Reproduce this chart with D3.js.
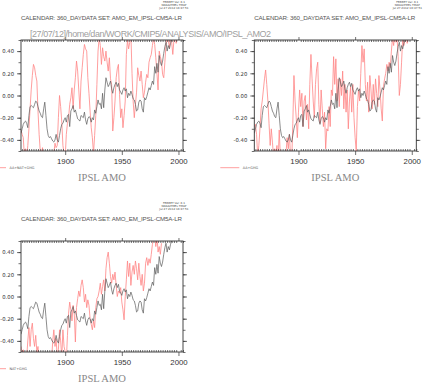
<!DOCTYPE html>
<html><head><meta charset="utf-8">
<script src="https://cdn.jsdelivr.net/npm/d3@7"></script>
<style>body{margin:0;background:#fff}svg{display:block}</style>
</head><body><svg id="c" width="432" height="382"></svg>
<script>
// ---------- data ----------
const startYear = 1861;
const obsAMO = [
-0.34,-0.30,-0.26,-0.24,-0.23,-0.25,-0.29,-0.18,-0.10,-0.09,
-0.10,-0.11,-0.08,-0.05,-0.06,-0.10,-0.14,-0.16,-0.19,-0.20,
-0.12,-0.06,-0.18,-0.30,-0.36,-0.38,-0.37,-0.39,-0.41,-0.42,
-0.40,-0.35,-0.40,-0.42,-0.36,-0.30,-0.26,-0.25,-0.22,-0.20,
-0.24,-0.18,-0.17,-0.28,-0.14,-0.12,-0.09,-0.15,-0.13,-0.17,
-0.21,-0.22,-0.23,-0.18,-0.19,-0.20,-0.15,-0.22,-0.26,-0.21,
-0.19,-0.20,-0.24,-0.20,-0.22,-0.13,-0.16,-0.10,-0.04,-0.08,
-0.07,-0.12,0.02,-0.11,0.05,0.16,0.12,0.08,0.10,0.13,
0.06,0.02,0.07,0.10,0.12,0.08,0.11,0.05,0.03,0.01,
0.05,0.07,0.04,0.06,-0.02,0.02,0.00,0.04,0.01,-0.03,
-0.04,-0.08,-0.14,-0.13,-0.06,-0.04,-0.05,-0.12,-0.15,-0.02,
-0.04,-0.01,0.03,0.07,0.05,0.09,0.13,0.10,0.26,0.20,
0.29,0.21,0.36,0.30,0.27,0.31,0.38,0.44,0.48,0.40,
0.45,0.42,0.47,0.50,0.51,0.55,0.52,0.58,0.56,0.60,0.58
];
const aaNatGhg = [
-0.31,-0.35,-0.38,-0.55,-0.48,-0.58,-0.45,-0.30,-0.12,0.05,
0.18,0.28,0.25,0.18,0.13,-0.14,-0.35,-0.50,-0.55,-0.47,
-0.60,-0.56,-0.68,-0.52,-0.62,-0.58,-0.66,-0.55,-0.60,-0.52,
-0.43,-0.47,-0.45,-0.20,0.00,-0.10,-0.24,-0.45,-0.52,-0.56,
-0.35,-0.25,-0.20,-0.08,-0.02,0.07,-0.12,0.05,0.16,0.31,
0.22,0.05,-0.12,0.13,0.25,0.37,0.46,0.42,0.40,0.16,
0.02,-0.14,-0.29,-0.38,-0.52,-0.36,-0.18,0.10,0.40,0.52,
0.45,0.28,0.43,0.35,0.31,0.40,0.30,0.22,0.34,0.15,
0.10,-0.32,-0.20,-0.05,0.16,0.24,0.28,0.01,-0.20,-0.12,
-0.29,-0.18,-0.05,0.37,0.50,0.42,0.48,0.55,0.20,-0.05,
-0.20,-0.08,0.03,0.25,0.18,0.13,0.22,0.10,-0.02,0.03,
0.12,0.19,0.16,0.30,0.34,0.37,0.45,0.52,0.46,0.34,
0.20,0.05,0.40,0.35,0.31,0.19,0.16,0.30,0.46,0.52,
0.50,0.43,0.52,0.48,0.37,0.50,0.56,0.47,0.55,0.60
];
const aaGhg = [
-0.28,-0.26,-0.35,-0.55,-0.45,-0.30,-0.12,-0.05,0.05,0.15,
0.23,0.10,-0.05,-0.25,-0.45,-0.30,-0.42,-0.55,-0.48,-0.52,
-0.45,-0.60,-0.31,-0.55,-0.50,-0.62,-0.56,-0.70,-0.52,-0.38,
-0.48,-0.35,-0.55,-0.60,-0.25,0.18,-0.05,-0.20,-0.38,-0.15,
0.05,-0.10,0.02,-0.28,-0.05,0.00,-0.22,-0.08,-0.30,0.10,
0.37,0.15,-0.05,-0.20,0.10,0.24,0.30,-0.08,-0.25,0.05,
-0.12,-0.28,-0.15,-0.48,-0.30,-0.32,-0.10,-0.28,0.05,0.00,
0.35,0.10,0.33,-0.05,0.15,-0.10,0.15,0.00,0.22,-0.12,
0.10,-0.15,0.05,-0.30,-0.05,0.08,-0.15,0.10,-0.20,-0.38,
-0.50,-0.10,0.05,-0.05,0.20,0.45,0.30,0.42,0.10,-0.05,
0.12,-0.15,0.18,0.05,-0.12,0.10,-0.08,0.15,0.02,-0.10,
0.18,0.05,-0.12,-0.23,0.08,0.15,0.20,0.28,0.22,0.30,
0.25,0.40,0.52,0.45,0.55,0.48,0.52,0.35,0.00,0.10,
0.30,0.52,0.45,0.50,0.55,0.47,0.55,0.50,0.60
];
const natGhg = [
-0.45,-0.55,-0.48,-0.60,-0.50,-0.55,-0.40,-0.28,-0.45,-0.30,
-0.24,-0.38,-0.45,-0.35,-0.50,-0.45,-0.58,-0.52,-0.65,-0.55,
-0.62,-0.58,-0.70,-0.60,-0.55,-0.65,-0.52,-0.58,-0.40,-0.30,
-0.45,-0.38,-0.55,-0.48,-0.30,-0.40,-0.55,-0.30,-0.45,-0.50,
-0.58,-0.35,-0.15,-0.05,-0.12,-0.22,-0.08,-0.15,-0.41,-0.10,
-0.02,0.05,0.00,0.10,0.15,0.08,-0.05,0.02,-0.10,-0.03,
-0.08,-0.20,-0.25,-0.30,-0.22,-0.28,-0.10,-0.02,0.00,0.05,
0.12,0.02,0.09,0.15,0.05,0.25,0.35,0.40,0.30,0.18,
0.12,0.20,0.15,0.22,0.10,0.00,0.05,0.03,0.08,-0.05,
-0.12,-0.21,0.00,0.15,0.32,0.18,0.30,0.10,0.22,0.28,
0.20,0.32,0.25,0.15,0.30,0.18,0.10,0.20,0.05,0.12,
0.30,0.35,0.28,0.34,0.30,0.38,0.47,0.52,0.60,0.45,
0.55,0.40,0.45,0.38,0.48
];
const xDomain = [1861, 2004];
const yDomain = [-0.5, 0.5];
const yTickValues = [-0.4, -0.2, 0, 0.2, 0.4];
const yTickLabels = ["-0.40", "-0.20", "0.00", "0.20", "0.40"];
const yMinorValues = [-0.5, -0.4, -0.3, -0.2, -0.1, 0, 0.1, 0.2, 0.3, 0.4, 0.5];
const xTickValues = [1900, 1950, 2000];
const xTickLabels = ["1900", "1950", "2000"];
const legendLabels = ["AA+NAT+GHG", "AA+GHG", "NAT+GHG"];
const headerText = "CALENDAR: 360_DAYDATA SET: AMO_EM_IPSL-CM5A-LR";
const pathText = "[27/07/12]/home/dan/WORK/CMIP5/ANALYSIS/AMO/IPSL_AMO2";
const stampLines = ["FERRET Ver. 6.1", "NOAA/PMEL TMAP", "Jul 27 2012 16:47:51"];
const titleText = "IPSL AMO";

// ---------- drawing ----------
const svg = d3.select("#c");
const W = 162, H = 111;
const panels = [
  {left: 21, top: 40, red: aaNatGhg, label: legendLabels[0], path: true},
  {left: 254.3, top: 40, red: aaGhg, label: legendLabels[1], path: false},
  {left: 21, top: 241, red: natGhg, label: legendLabels[2], path: false}
];
const xMinor = [];
for (let yv = 1862; yv <= 2004; yv += 2) if (yv % 50 !== 0) xMinor.push(yv);
const sans = "'DejaVu Sans', sans-serif";
const thin = "'Liberation Sans', sans-serif";

panels.forEach((p, i) => {
  const g = svg.append("g");
  const x = d3.scaleLinear().domain(xDomain).range([p.left, p.left + W]);
  const y = d3.scaleLinear().domain(yDomain).range([p.top + H, p.top]);
  const cid = "clip" + i;
  svg.append("clipPath").attr("id", cid).append("rect")
    .attr("x", p.left).attr("y", p.top).attr("width", W).attr("height", H);

  const line = d3.line().x((d, k) => x(startYear + k)).y(d => y(d));
  g.append("path").datum(p.red).attr("clip-path", `url(#${cid})`)
    .attr("d", line).attr("fill", "none").attr("stroke", "#ff8585").attr("stroke-width", 0.8);
  g.append("path").datum(obsAMO).attr("clip-path", `url(#${cid})`)
    .attr("d", line).attr("fill", "none").attr("stroke", "#5a5a5a").attr("stroke-width", 0.7);

  // frame
  g.append("rect").attr("x", p.left).attr("y", p.top).attr("width", W).attr("height", H)
    .attr("fill", "none").attr("stroke", "#333").attr("stroke-width", 0.9);

  const clean = sel => { sel.select(".domain").remove(); sel.selectAll("line").attr("stroke", "#333").attr("stroke-width", 0.7); };

  const la = g.append("g").attr("transform", `translate(${p.left},0)`)
    .call(d3.axisLeft(y).tickValues(yTickValues).tickFormat((d, k) => yTickLabels[k]).tickSize(4).tickPadding(3));
  clean(la);
  la.selectAll("text").attr("font-family", sans).attr("font-size", 5.3).attr("fill", "#333");
  const lm = g.append("g").attr("transform", `translate(${p.left},0)`)
    .call(d3.axisLeft(y).tickValues(yMinorValues).tickFormat("").tickSize(2.5));
  clean(lm);
  const ra = g.append("g").attr("transform", `translate(${p.left + W},0)`)
    .call(d3.axisRight(y).tickValues(yTickValues).tickFormat("").tickSize(4));
  clean(ra);
  const rm = g.append("g").attr("transform", `translate(${p.left + W},0)`)
    .call(d3.axisRight(y).tickValues(yMinorValues).tickFormat("").tickSize(2.5));
  clean(rm);
  const ba = g.append("g").attr("transform", `translate(0,${p.top + H})`)
    .call(d3.axisBottom(x).tickValues(xTickValues).tickFormat((d, k) => xTickLabels[k]).tickSize(4));
  clean(ba);
  ba.selectAll("text").attr("y", 13).attr("dy", 0).attr("font-family", thin).attr("font-size", 7.8).attr("fill", "#333");
  const bm = g.append("g").attr("transform", `translate(0,${p.top + H})`)
    .call(d3.axisBottom(x).tickValues(xMinor).tickFormat("").tickSize(-2));
  clean(bm);
  const ta = g.append("g").attr("transform", `translate(0,${p.top})`)
    .call(d3.axisTop(x).tickValues(xTickValues).tickFormat("").tickSize(3));
  clean(ta);
  const tm = g.append("g").attr("transform", `translate(0,${p.top})`)
    .call(d3.axisTop(x).tickValues(xMinor).tickFormat("").tickSize(-2));
  clean(tm);

  // header
  g.append("text").attr("x", p.left).attr("y", p.top - 20).text(headerText)
    .attr("font-family", thin).attr("font-size", 6.2).attr("fill", "#555")
    .attr("textLength", 161).attr("lengthAdjust", "spacing");
  // stamp
  stampLines.forEach((s, k) => {
    g.append("text").attr("x", p.left + 153).attr("y", p.top - 37.5 + k * 3).text(s)
      .attr("text-anchor", "middle").attr("font-family", sans).attr("font-size", 2.8).attr("fill", "#444");
  });
  if (p.path) {
    g.append("text").attr("x", 30).attr("y", 36.5).text(pathText)
      .attr("font-family", thin).attr("font-size", 9).attr("fill", "#a0a0a0")
      .attr("textLength", 241).attr("lengthAdjust", "spacing");
  }
  // legend
  const ly = p.top + H + 16.7;
  g.append("line").attr("x1", p.left - 34).attr("x2", p.left - 15).attr("y1", ly).attr("y2", ly)
    .attr("stroke", "#ff8585").attr("stroke-width", 0.8);
  g.append("text").attr("x", p.left - 11.5).attr("y", ly).attr("dy", "0.35em").text(p.label)
    .attr("font-family", sans).attr("font-size", 3.4).attr("fill", "#555");
  // title
  g.append("text").attr("x", p.left + W / 2).attr("y", p.top + H + 29.5).text(titleText)
    .attr("text-anchor", "middle").attr("font-family", "'Liberation Serif', serif").attr("font-size", 11)
    .attr("fill", "#888").attr("textLength", 48).attr("lengthAdjust", "spacingAndGlyphs");
});
</script>
</body></html>
